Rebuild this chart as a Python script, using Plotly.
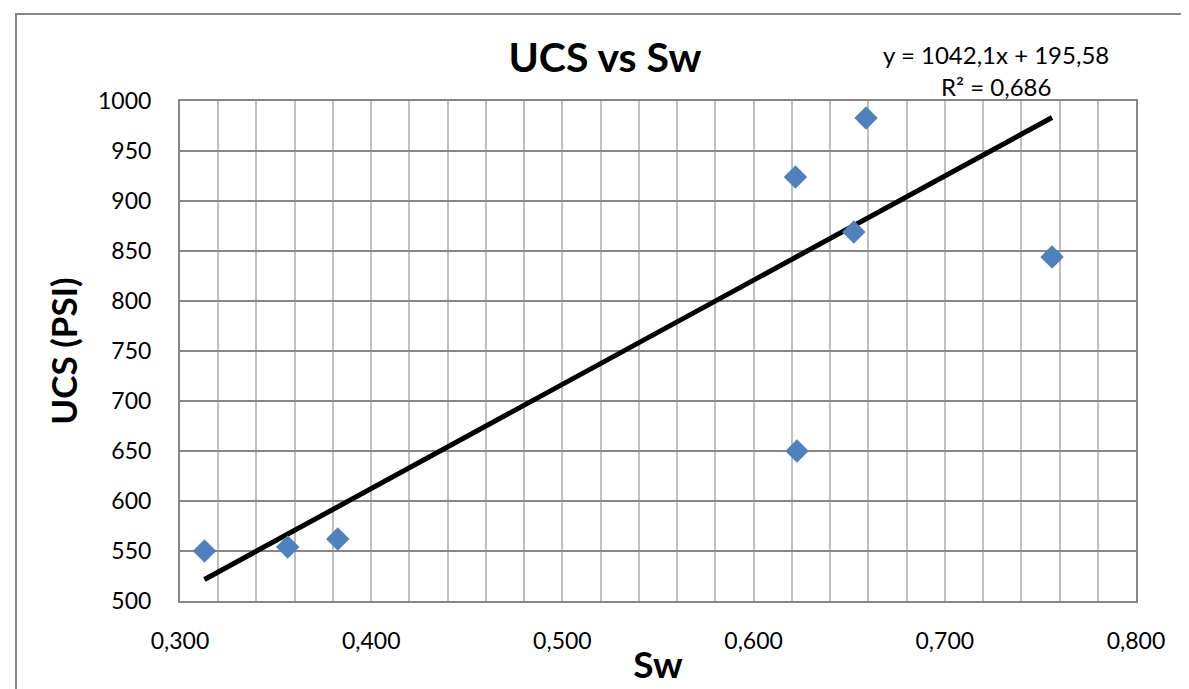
import plotly.graph_objects as go

# Sw vs UCS readings
sw = [0.3128, 0.3563, 0.3825, 0.6219, 0.6227, 0.6524, 0.6588, 0.7561]
ucs = [550, 554, 562, 924, 650, 869, 983, 844]

# trendline as reported on the chart
slope = 1042.1
intercept = 195.58
r2_txt = "R² = 0,686"
eq_txt = "y = 1042,1x + 195,58"

x_ticks = [0.3, 0.4, 0.5, 0.6, 0.7, 0.8]

font = "Lato"

fit_x = [min(sw), max(sw)]
fit_y = [slope * v + intercept for v in fit_x]

fig = go.Figure()
fig.add_trace(go.Scatter(
    x=fit_x, y=fit_y, mode="lines",
    line=dict(color="black", width=5), showlegend=False, hoverinfo="skip"))
fig.add_trace(go.Scatter(
    x=sw, y=ucs, mode="markers",
    marker=dict(symbol="diamond", size=18, color="#4F81BD",
                line=dict(width=0)),
    showlegend=False))

fig.update_layout(
    width=1189, height=689,
    margin=dict(l=172, r=61, t=93, b=96),
    paper_bgcolor="white", plot_bgcolor="white",
    separators=", ",
    font=dict(family=font, size=23, color="black"),
    title=dict(text="<b>UCS vs Sw</b>", x=0.502, xanchor="center",
               y=1 - 50 / 689, yanchor="middle", xref="container",
               yref="container",
               font=dict(family=font, size=41, color="black")),
    xaxis=dict(range=[0.3, 0.8], tickvals=x_ticks, tickformat=".3f",
               showgrid=True, gridcolor="#BFBFBF", gridwidth=1.5,
               minor=dict(dtick=0.02, showgrid=True, gridcolor="#BFBFBF",
                          gridwidth=1.5),
               showline=True, linecolor="#878787", linewidth=2, mirror=True,
               zeroline=False, ticks="", ticklabelstandoff=18,
               title=dict(text="<b>Sw</b>", standoff=0,
                          font=dict(family=font, size=37))),
    yaxis=dict(range=[500, 1000], dtick=50,
               showgrid=True, gridcolor="#878787", gridwidth=1.5,
               showline=True, linecolor="#878787", linewidth=2, mirror=True,
               zeroline=False, ticks="", ticklabelstandoff=22,
               title=dict(text="<b>UCS (PSI)</b>", standoff=10,
                          font=dict(family=font, size=35))),
)

fig.add_annotation(text=eq_txt, xref="paper", yref="paper",
                   x=(988 - 172) / 956, y=(593 - 47) / 500,
                   showarrow=False, xanchor="center", yanchor="middle",
                   font=dict(family=font, size=24))
fig.add_annotation(text=r2_txt, xref="paper", yref="paper",
                   x=(988 - 172) / 956, y=(593 - 79) / 500,
                   showarrow=False, xanchor="center", yanchor="middle",
                   font=dict(family=font, size=24))

# outer chart frame
fig.add_shape(type="rect", xref="paper", yref="paper",
              x0=(8 - 172) / 956, x1=(1187 - 172) / 956,
              y0=(593 - 700) / 500, y1=(593 - 6) / 500,
              line=dict(color="#878787", width=2), layer="below")

fig.write_html("out.html")
